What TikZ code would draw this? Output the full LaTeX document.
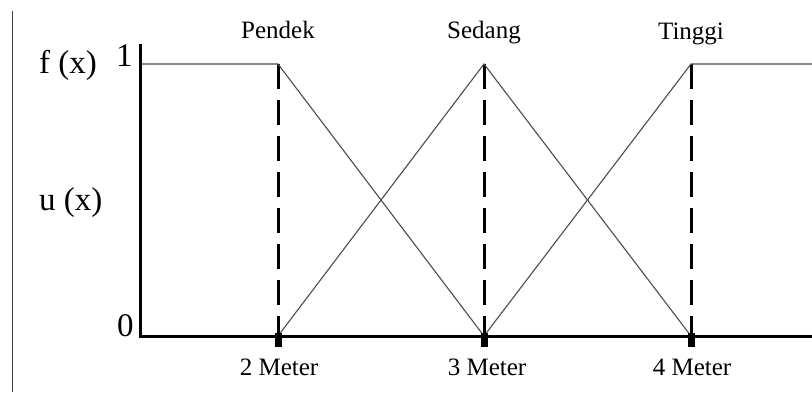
\documentclass[tikz,border=0pt]{standalone}
\usepackage{fontspec}
\setmainfont{Liberation Serif}
\begin{document}
\begin{tikzpicture}[x=1pt,y=-1pt,
  axisline/.style={line width=3pt,black},
  memb/.style={line width=1.1pt,black!70},
  guide/.style={line width=3pt,black,dash pattern=on 25pt off 11pt},
  tickbox/.style={fill=black,draw=none},
  lbl/.style={font=\fontsize{25}{29}\selectfont,inner sep=0pt},
  biglbl/.style={font=\fontsize{33}{38}\selectfont,inner sep=0pt}]
\useasboundingbox (0,0) rectangle (812,392);
\fill[white] (0,0) rectangle (812,392);
% frame line at left
\draw[line width=1.5pt,black!75] (12.7,11) -- (12.7,392);
% key coordinates
\coordinate (o) at (140,336);
\coordinate (ytop) at (140,44);
\coordinate (xend) at (812,336);
\coordinate (one) at (140,64);
\coordinate (p1) at (278,64);
\coordinate (p0) at (278,336);
\coordinate (s1) at (484,64);
\coordinate (s0) at (484,336);
\coordinate (t1) at (691,64);
\coordinate (t0) at (691,336);
\coordinate (rend) at (812,64);
% dashed guides
\draw[guide] (p1) -- ([yshift=-11pt]p0);
\draw[guide] (s1) -- ([yshift=-11pt]s0);
\draw[guide] (t1) -- ([yshift=-11pt]t0);
% membership functions
\draw[memb] (one) -- (p1) -- (s0);
\draw[memb] (p0) -- (s1) -- (t0);
\draw[memb] (s0) -- (t1) -- (rend);
% axes
\draw[axisline] (ytop) -- ([yshift=1.5pt]o);
\draw[axisline] ([xshift=-1.5pt]o) -- (xend);
% tick boxes
\foreach \c in {p0,s0,t0}
  \fill[tickbox] ([xshift=-3.5pt,yshift=-11pt]\c) rectangle ([xshift=3.5pt,yshift=3pt]\c);
% labels
\node[lbl,anchor=base] (lp) at (278,38) {Pendek};
\node[lbl,anchor=base] (ls) at (484,38) {Sedang};
\node[lbl,anchor=base] (lt) at (691,39) {Tinggi};
\node[biglbl,anchor=base west] (fx) at (39,73) {f (x)};
\node[biglbl,anchor=base west] (ux) at (39,210) {u (x)};
\node[biglbl,anchor=base west] (l1) at (116,66) {1};
\node[biglbl,anchor=base west] (l0) at (117,336) {0};
\node[lbl,anchor=base] (m2) at (279,375) {2 Meter};
\node[lbl,anchor=base] (m3) at (487,375) {3 Meter};
\node[lbl,anchor=base] (m4) at (692,375) {4 Meter};
\end{tikzpicture}
\end{document}
